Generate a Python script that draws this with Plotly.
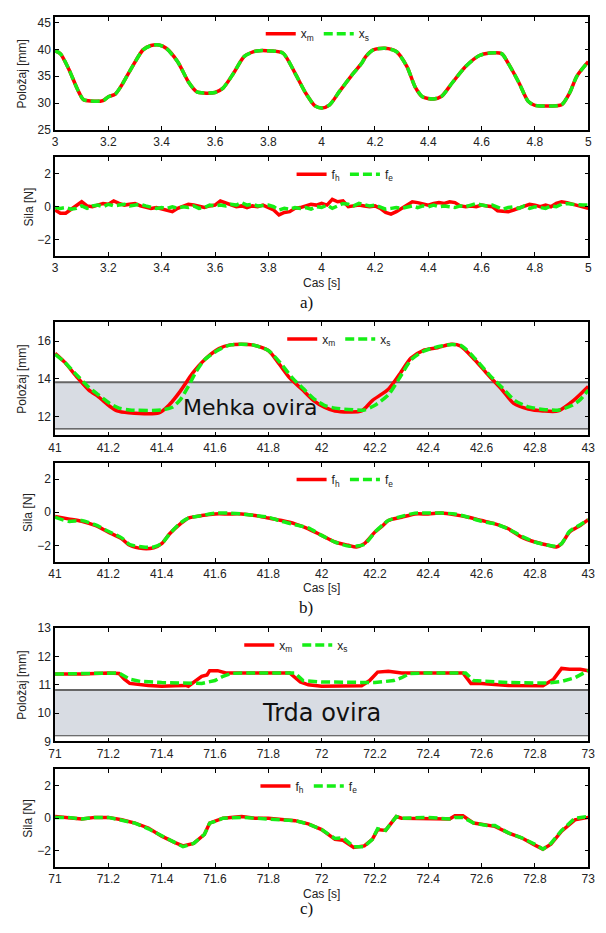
import plotly.graph_objects as go

# page body has an 8px default margin; size the figure so the page exactly fits the 606x933 window
OFF = 8
W, H = 606 - OFF, 933 - 2 * OFF

# ---------------- data ----------------
# a) position
t1 = [3.0, 3.02, 3.05, 3.085, 3.106, 3.134, 3.18, 3.2, 3.226, 3.247, 3.29, 3.33, 3.36, 3.39, 3.417,
      3.46, 3.50, 3.53, 3.558, 3.60, 3.63, 3.67, 3.71, 3.756, 3.81, 3.855, 3.9, 3.94, 3.975, 4.0,
      4.03, 4.067, 4.11, 4.15, 4.166, 4.194, 4.237, 4.28, 4.32, 4.35, 4.378, 4.42, 4.45, 4.49,
      4.54, 4.59, 4.63, 4.675, 4.70, 4.74, 4.774, 4.80, 4.86, 4.90, 4.93, 4.957, 5.0]
xm1 = [39.7, 39.2, 36.5, 32.5, 30.7, 30.4, 30.5, 31.2, 31.7, 33.1, 36.8, 39.9, 40.7, 40.8, 40.2,
       37.7, 34.0, 32.2, 31.9, 32.0, 32.8, 35.6, 38.7, 39.7, 39.7, 39.3, 35.6, 31.9, 29.5, 29.1,
       29.7, 32.2, 35.0, 37.4, 38.7, 39.9, 40.2, 39.6, 36.8, 33.1, 31.2, 30.8, 31.3, 33.8,
       36.8, 38.8, 39.3, 39.2, 37.4, 33.8, 30.4, 29.6, 29.5, 29.7, 31.9, 35.0, 37.7]
xs1 = [39.7, 39.2, 36.5, 32.5, 30.7, 30.4, 30.5, 31.2, 31.7, 33.1, 36.8, 39.9, 40.7, 40.8, 40.2,
       37.7, 34.0, 32.2, 31.9, 32.0, 32.8, 35.6, 38.7, 39.7, 39.7, 39.3, 35.6, 31.9, 29.5, 29.1,
       29.7, 32.2, 35.0, 37.4, 38.7, 39.9, 40.2, 39.6, 36.8, 33.1, 31.2, 30.8, 31.3, 33.8,
       36.8, 38.8, 39.3, 39.2, 37.4, 33.8, 30.4, 29.6, 29.5, 29.7, 31.9, 35.0, 37.7]

# a) force (sampled every 0.02 s)
t2 = [3.00, 3.02, 3.04, 3.06, 3.08, 3.10, 3.12, 3.14, 3.16, 3.18, 3.20, 3.22, 3.24, 3.26, 3.28,
      3.30, 3.32, 3.34, 3.36, 3.38, 3.40, 3.42, 3.44, 3.46, 3.48, 3.50, 3.52, 3.54, 3.56, 3.58,
      3.60, 3.62, 3.64, 3.66, 3.68, 3.70, 3.72, 3.74, 3.76, 3.78, 3.80, 3.82, 3.84, 3.86, 3.88,
      3.90, 3.92, 3.94, 3.96, 3.98, 4.00, 4.02, 4.04, 4.06, 4.08, 4.10, 4.12, 4.14, 4.16, 4.18,
      4.20, 4.22, 4.24, 4.26, 4.28, 4.30, 4.32, 4.34, 4.36, 4.38, 4.40, 4.42, 4.44, 4.46, 4.48,
      4.50, 4.52, 4.54, 4.56, 4.58, 4.60, 4.62, 4.64, 4.66, 4.68, 4.70, 4.72, 4.74, 4.76, 4.78,
      4.80, 4.82, 4.84, 4.86, 4.88, 4.90, 4.92, 4.94, 4.96, 4.98, 5.00]
fh2 = [-0.2, -0.4, -0.4, -0.15, 0.1, 0.3, 0.05, 0.0, 0.1, 0.2, 0.15, 0.35, 0.2, 0.1, 0.15,
       0.2, 0.05, 0.0, -0.1, -0.05, -0.15, -0.2, -0.3, -0.1, 0.0, 0.15, 0.1, 0.0, -0.05, 0.05,
       0.1, 0.35, 0.25, 0.1, 0.0, 0.05, -0.05, 0.05, 0.0, 0.1, -0.05, -0.2, -0.5, -0.35, -0.3,
       -0.1, -0.05, 0.05, 0.15, 0.1, 0.2, 0.1, 0.45, 0.3, 0.35, 0.0, 0.05, 0.1, 0.05, 0.0,
       0.05, -0.1, -0.35, -0.45, -0.3, -0.1, 0.05, 0.3, 0.25, 0.15, 0.1, 0.2, 0.25, 0.2, 0.3,
       0.25, 0.05, 0.0, 0.05, 0.0, 0.1, 0.05, 0.0, -0.25, -0.3, -0.3, -0.2, -0.1, 0.05, 0.15,
       0.1, 0.0, 0.1, 0.0, 0.2, 0.3, 0.25, 0.15, 0.1, -0.05, -0.1]
fe2 = [-0.05, -0.1, -0.05, -0.15, -0.1, 0.05, -0.1, 0.05, 0.1, 0.0, 0.15, 0.05, 0.1, 0.15, 0.05,
       0.1, 0.15, 0.05, 0.0, -0.1, -0.05, -0.1, 0.0, -0.1, 0.0, -0.05, 0.05, -0.1, -0.05, 0.1,
       0.05, 0.1, 0.05, 0.15, 0.1, 0.25, 0.1, 0.15, 0.05, 0.1, 0.1, 0.0, -0.2, -0.1, -0.15,
       -0.05, -0.1, -0.05, -0.15, 0.0, -0.05, 0.1, -0.1, 0.05, 0.2, 0.15, 0.05, 0.2, 0.1, 0.05,
       0.1, -0.05, -0.15, -0.1, -0.05, -0.1, 0.0, 0.05, -0.05, 0.05, 0.0, 0.1, 0.0, 0.05, 0.0,
       -0.05, 0.05, 0.0, 0.1, 0.2, 0.1, 0.05, 0.1, -0.05, -0.15, -0.05, 0.0, -0.1, 0.05, -0.1,
       0.0, -0.05, -0.1, 0.05, 0.0, 0.15, 0.2, 0.15, 0.1, 0.1, 0.1]

# b) position
t3m = [41.0, 41.035, 41.085, 41.127, 41.163, 41.205, 41.233, 41.276, 41.39, 41.43, 41.47, 41.516,
       41.56, 41.615, 41.657, 41.74, 41.8, 41.84, 41.88, 41.926, 41.97, 42.01, 42.05, 42.15, 42.19,
       42.25, 42.29, 42.335, 42.38, 42.435, 42.485, 42.52, 42.575, 42.625, 42.675, 42.72, 42.775,
       42.83, 42.887, 42.944, 43.0]
xm3 = [15.35, 14.9, 14.05, 13.4, 13.05, 12.55, 12.3, 12.2, 12.2, 12.65, 13.35, 14.3,
       15.0, 15.6, 15.8, 15.8, 15.5, 14.8, 14.05, 13.45, 12.85, 12.5, 12.3, 12.3, 12.85,
       13.45, 14.2, 15.1, 15.5, 15.65, 15.83, 15.75, 15.0, 14.2, 13.45, 12.7, 12.4,
       12.3, 12.3, 12.85, 13.6]
t3s = [41.0, 41.035, 41.085, 41.127, 41.163, 41.205, 41.24, 41.28, 41.40, 41.44, 41.47, 41.5,
       41.53, 41.56, 41.615, 41.66, 41.74, 41.8, 41.845, 41.89, 41.93, 41.97, 42.01, 42.05, 42.1,
       42.16, 42.2, 42.25, 42.29, 42.335, 42.38, 42.435, 42.49, 42.525, 42.58, 42.63, 42.68,
       42.725, 42.78, 42.83, 42.89, 42.94, 42.97, 43.0]
xs3 = [15.3, 14.9, 14.15, 13.55, 13.15, 12.7, 12.45, 12.35, 12.35, 12.5, 12.9, 13.6,
       14.4, 15.0, 15.55, 15.8, 15.8, 15.5, 14.85, 14.05, 13.5, 12.95, 12.6, 12.45, 12.38,
       12.35, 12.6, 13.15, 14.0, 15.0, 15.45, 15.7, 15.82, 15.75, 15.0, 14.2, 13.5,
       12.85, 12.5, 12.38, 12.35, 12.6, 12.9, 13.4]

# b) force
t4h = [41.0, 41.05, 41.1, 41.15, 41.2, 41.25, 41.28, 41.33, 41.37, 41.4, 41.43, 41.47, 41.5, 41.55,
       41.6, 41.65, 41.7, 41.75, 41.8, 41.85, 41.9, 41.95, 42.0, 42.05, 42.1, 42.13, 42.16, 42.2,
       42.23, 42.25, 42.3, 42.35, 42.4, 42.45, 42.5, 42.55, 42.6, 42.65, 42.7, 42.75, 42.8, 42.85,
       42.88, 42.9, 42.93, 42.97, 43.0]
fh4 = [-0.25, -0.4, -0.55, -0.8, -1.2, -1.6, -2.0, -2.2, -2.15, -1.9, -1.3, -0.7, -0.35, -0.2,
       -0.1, -0.1, -0.1, -0.2, -0.35, -0.5, -0.7, -1.0, -1.4, -1.8, -2.0, -2.1, -1.9, -1.2,
       -0.8, -0.5, -0.3, -0.1, -0.1, -0.05, -0.15, -0.3, -0.5, -0.7, -1.0, -1.5, -1.8, -2.0,
       -2.1, -1.9, -1.2, -0.8, -0.45]
fe4 = [-0.3, -0.55, -0.5, -0.75, -1.15, -1.55, -1.95, -2.1, -2.1, -1.9, -1.3, -0.65, -0.35, -0.2,
       -0.05, -0.05, -0.1, -0.2, -0.3, -0.55, -0.75, -0.95, -1.4, -1.8, -2.05, -2.05, -1.95, -1.2,
       -0.75, -0.5, -0.25, -0.05, -0.05, -0.05, -0.1, -0.3, -0.55, -0.7, -1.0, -1.45, -1.8, -2.0,
       -2.05, -1.9, -1.15, -0.75, -0.45]

# c) position
t5m = [71.0, 71.1, 71.2, 71.24, 71.26, 71.28, 71.35, 71.4, 71.45, 71.49, 71.5, 71.52, 71.55, 71.57,
       71.58, 71.61, 71.64, 71.7, 71.8, 71.88, 71.92, 71.95, 72.0, 72.05, 72.1, 72.15, 72.18, 72.21,
       72.25, 72.3, 72.4, 72.53, 72.56, 72.6, 72.7, 72.8, 72.83, 72.87, 72.9, 72.93, 72.97, 73.0]
xm5 = [11.38, 11.38, 11.42, 11.4, 11.2, 11.05, 10.98, 10.95, 10.97, 10.98, 10.95, 11.1, 11.3, 11.35,
       11.5, 11.5, 11.42, 11.42, 11.42, 11.42, 11.1, 11.0, 10.95, 10.95, 10.95, 10.97, 11.15, 11.45,
       11.48, 11.42, 11.42, 11.42, 11.05, 11.05, 10.98, 10.97, 10.97, 11.2, 11.58, 11.55, 11.55, 11.5]
t5s = [71.0, 71.1, 71.24, 71.28, 71.32, 71.4, 71.5, 71.55, 71.6, 71.63, 71.66, 71.7, 71.9, 71.93,
       72.0, 72.1, 72.2, 72.27, 72.3, 72.33, 72.4, 72.54, 72.57, 72.7, 72.8, 72.85, 72.9, 72.95, 73.0]
xs5 = [11.38, 11.4, 11.42, 11.2, 11.12, 11.08, 11.05, 11.05, 11.15, 11.3, 11.4, 11.42, 11.42, 11.15,
       11.1, 11.08, 11.08, 11.15, 11.25, 11.4, 11.42, 11.42, 11.15, 11.08, 11.06, 11.06, 11.12, 11.25, 11.5]

# c) force
t6 = [71.0, 71.05, 71.1, 71.15, 71.2, 71.25, 71.3, 71.35, 71.4, 71.45, 71.48, 71.52, 71.56, 71.58,
      71.6, 71.63, 71.7, 71.75, 71.8, 71.85, 71.9, 71.95, 72.0, 72.05, 72.08, 72.12, 72.16, 72.19,
      72.21, 72.24, 72.28, 72.3, 72.4, 72.48, 72.5, 72.53, 72.57, 72.62, 72.65, 72.7, 72.75, 72.8,
      72.83, 72.86, 72.9, 72.95, 73.0]
fh6 = [0.1, 0.05, -0.05, 0.05, 0.05, -0.1, -0.3, -0.6, -1.1, -1.5, -1.7, -1.55, -1.0, -0.3,
       -0.2, 0.0, 0.1, 0.0, 0.0, -0.05, -0.15, -0.35, -0.7, -1.3, -1.35, -1.8, -1.7, -1.3,
       -0.7, -0.75, 0.1, 0.0, 0.0, -0.05, 0.15, 0.15, -0.3, -0.4, -0.5, -0.9, -1.2, -1.65,
       -1.9, -1.6, -0.8, -0.1, 0.05]
fe6 = [0.05, 0.05, -0.05, 0.05, 0.05, -0.1, -0.3, -0.65, -1.1, -1.5, -1.75, -1.55, -1.0, -0.3,
       -0.2, 0.0, 0.05, 0.0, 0.0, -0.05, -0.15, -0.35, -0.7, -1.25, -1.2, -1.75, -1.75, -1.3,
       -0.65, -0.75, 0.1, 0.0, 0.05, -0.05, 0.05, 0.05, -0.3, -0.45, -0.45, -0.9, -1.2, -1.6,
       -1.9, -1.55, -0.75, 0.0, 0.1]

# obstacle bands [y0, y1]
soft_band = [11.35, 13.82]
hard_band = [9.2, 10.82]

# ---------------- layout helpers ----------------
RED = "#ff0000"
GREEN = "#16ee16"


def px(p):
    return (p - OFF) / W


def py(p):
    return 1 - (p - OFF) / H


X0, X1 = 49, 595
rows = [(10, 125), (152.7, 252.7), (320, 435), (462.7, 563.3), (630.7, 745.7), (774, 873.3)]
xranges = [[3, 5], [3, 5], [41, 43], [41, 43], [71, 73], [71, 73]]
yranges = [[25, 46], [-3, 3], [11, 17], [-3, 3], [9, 13], [-3, 3]]
ytickvals = [[25, 30, 35, 40, 45], [-2, 0, 2], [12, 14, 16], [-2, 0, 2], [9, 10, 11, 12, 13], [-2, 0, 2]]
legend_cx = [318, 346, 340, 346, 296, 309]
smooth = [True, False, True, True, False, False]
label_y = [300, 610, 915]

fig = go.Figure()

series = [
    (t1, xm1, t1, xs1, "x<sub>m</sub>", "x<sub>s</sub>"),
    (t2, fh2, t2, fe2, "f<sub>h</sub>", "f<sub>e</sub>"),
    (t3m, xm3, t3s, xs3, "x<sub>m</sub>", "x<sub>s</sub>"),
    (t4h, fh4, t4h, fe4, "f<sub>h</sub>", "f<sub>e</sub>"),
    (t5m, xm5, t5s, xs5, "x<sub>m</sub>", "x<sub>s</sub>"),
    (t6, fh6, t6, fe6, "f<sub>h</sub>", "f<sub>e</sub>"),
]

layout = dict(width=W, height=H, margin=dict(l=0, r=0, t=0, b=0),
              paper_bgcolor="white", plot_bgcolor="white",
              font=dict(family="Liberation Sans, Arial", size=12, color="#222"),
              shapes=[], annotations=[])

for i, (ta, ya, tb, yb, na, nb) in enumerate(series):
    k = i + 1
    xa = "x" if k == 1 else f"x{k}"
    yaref = "y" if k == 1 else f"y{k}"
    lg = "legend" if k == 1 else f"legend{k}"
    shape = "spline" if smooth[i] else "linear"
    fig.add_trace(go.Scatter(x=ta, y=ya, mode="lines", name=na, xaxis=xa, yaxis=yaref,
                             line=dict(color=RED, width=3.5, shape=shape, smoothing=0.7), legend=lg))
    fig.add_trace(go.Scatter(x=tb, y=yb, mode="lines", name=nb, xaxis=xa, yaxis=yaref,
                             line=dict(color=GREEN, width=3.5, dash="9px,4px", shape=shape, smoothing=0.7),
                             legend=lg))
    top, bot = rows[i]
    axsuf = "" if k == 1 else str(k)
    layout["xaxis" + axsuf] = dict(domain=[px(X0), px(X1)], anchor=yaref, range=xranges[i],
                                  dtick=0.2, tick0=xranges[i][0], showgrid=False, zeroline=False,
                                  showline=True, linecolor="black", linewidth=1.5, mirror="ticks",
                                  ticks="inside", ticklen=4, tickcolor="black",
                                  tickfont=dict(size=12))
    layout["yaxis" + axsuf] = dict(domain=[py(bot), py(top)], anchor=xa, range=yranges[i],
                                  tickvals=ytickvals[i], showgrid=False, zeroline=False,
                                  showline=True, linecolor="black", linewidth=1.5, mirror="ticks",
                                  ticks="inside", ticklen=4, tickcolor="black",
                                  tickfont=dict(size=12))
    layout[lg] = dict(orientation="h", x=px(legend_cx[i]), xanchor="center",
                      y=py(top + 17), yanchor="middle", bgcolor="rgba(0,0,0,0)",
                      font=dict(size=12), tracegroupgap=0, itemwidth=30)
    # y-axis title
    title = "Položaj [mm]" if i % 2 == 0 else "Sila [N]"
    layout["annotations"].append(dict(text=title, xref="paper", yref="paper",
                                      x=px(15 if i % 2 == 0 else 22),
                                      y=py((top + bot) / 2), textangle=-90,
                                      showarrow=False, font=dict(size=12),
                                      xanchor="center", yanchor="middle"))
    if i % 2 == 1:
        layout["annotations"].append(dict(text="Cas [s]", xref="paper", yref="paper",
                                          x=px((X0 + X1) / 2), y=py(bot + 27),
                                          showarrow=False, font=dict(size=12),
                                          xanchor="center", yanchor="middle"))
        lab = ["a)", "b)", "c)"][i // 2]
        layout["annotations"].append(dict(text=lab, xref="paper", yref="paper",
                                          x=px(306), y=py(label_y[i // 2]),
                                          showarrow=False,
                                          font=dict(size=17, family="Liberation Serif, Times New Roman", color="#111"),
                                          xanchor="center", yanchor="middle"))

# obstacle bands
for band, xr, ax in [(soft_band, [41, 43], "3"), (hard_band, [71, 73], "5")]:
    layout["shapes"].append(dict(type="rect", xref="x" + ax, yref="y" + ax,
                                 x0=xr[0], x1=xr[1], y0=band[0], y1=band[1],
                                 fillcolor="#d8dce3", line=dict(width=0), layer="below"))
    layout["shapes"].append(dict(type="line", xref="x" + ax, yref="y" + ax,
                                 x0=xr[0], x1=xr[1], y0=band[1], y1=band[1],
                                 line=dict(color="#666", width=2), layer="below"))
    layout["shapes"].append(dict(type="line", xref="x" + ax, yref="y" + ax,
                                 x0=xr[0], x1=xr[1], y0=band[0], y1=band[0],
                                 line=dict(color="#444", width=1.2), layer="below"))

layout["annotations"].append(dict(text="Mehka ovira", xref="x3", yref="y3", x=41.73, y=12.5,
                                  showarrow=False, font=dict(size=22, family="DejaVu Sans", color="#111")))
layout["annotations"].append(dict(text="Trda ovira", xref="x5", yref="y5", x=72.0, y=10.0,
                                  showarrow=False, font=dict(size=24, family="DejaVu Sans", color="#111")))

fig.update_layout(**layout)
fig.write_html("out.html")
